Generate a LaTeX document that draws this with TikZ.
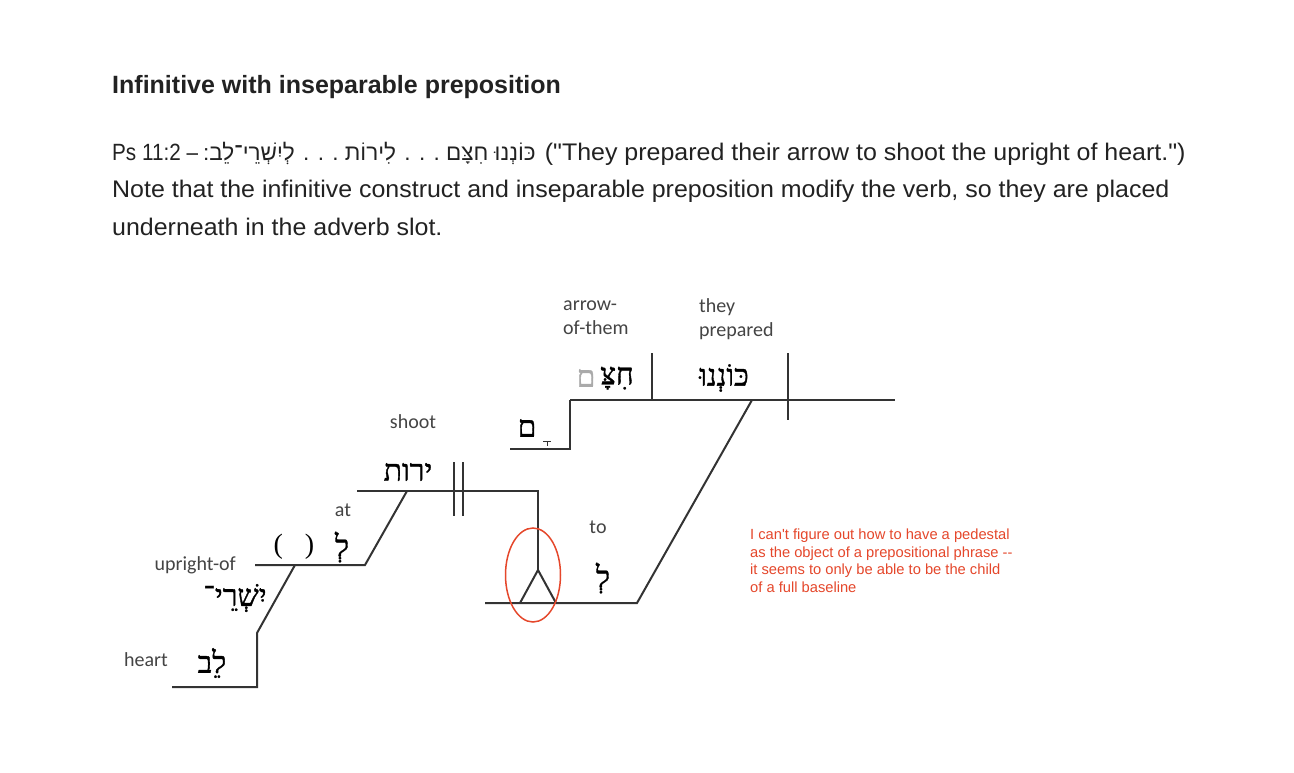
\documentclass[tikz,border=0pt]{standalone}
\usepackage{fontspec}
\setmainfont{Liberation Sans}[Ligatures=TeXOff]
\newfontfamily\bodyfont{Liberation Sans}[Ligatures=TeXOff, FakeStretch=1.04]
\newfontfamily\hebsans[Script=Hebrew]{Liberation Sans}
\newfontfamily\hebserif[Script=Hebrew, FakeBold=1.2]{Liberation Serif}
\newfontfamily\parenfont{Liberation Serif}
\newfontfamily\lblfont{Carlito}
\TeXXeTstate=1
\definecolor{txt}{HTML}{222222}
\definecolor{lblc}{HTML}{444444}
\definecolor{lnc}{HTML}{333333}
\definecolor{notec}{HTML}{E5472B}
\definecolor{sufc}{HTML}{AAAAAA}
\begin{document}
\begin{tikzpicture}[x=1pt,y=-1pt,
  body/.style={anchor=base west, inner sep=0pt, text=txt, font=\bodyfont\fontsize{24}{24}\selectfont},
  title/.style={anchor=base west, inner sep=0pt, text=txt, font=\fontsize{25}{25}\selectfont\bfseries},
  lbl/.style={inner sep=0pt, text=lblc, font=\lblfont\fontsize{20}{24}\selectfont},
  heb/.style={inner sep=0pt, text=black, font=\hebserif\fontsize{30}{30}\selectfont},
  ln/.style={draw=lnc, line width=2pt},
  notetxt/.style={inner sep=0pt, text=notec, align=left, font=\fontsize{14.7}{17.5}\selectfont},
  circ/.style={draw=notec, line width=1.5pt}
]
\useasboundingbox[fill=white] (0,0) rectangle (1294,772);

% ---------- text above ----------
\node[title] (t0) at (112,93) {Infinitive with inseparable preposition};
\node[body] (t1) at (112,160) {{\rmfamily\fontsize{23.5}{23.5}\selectfont\scalebox{0.88}[1]{Ps 11:2 –}}\hspace{5pt}{\hebsans\fontsize{22.5}{22.5}\selectfont\beginR כּוֹנְנוּ חִצָּם . . . לִירוֹת . . . לְיִשְׁרֵי־לֵב:\endR} ("They prepared their arrow to shoot the upright of heart.")};
\node[body] (t2) at (112,197) {Note that the infinitive construct and inseparable preposition modify the verb, so they are placed};
\node[body] (t3) at (112,235) {underneath in the adverb slot.};

% ---------- coordinates ----------
\coordinate (mainL) at (570,400);
\coordinate (mainR) at (895,400);
\coordinate (vdT) at (652,353);
\coordinate (vdB) at (652,400);
\coordinate (spT) at (788,353);
\coordinate (spB) at (788,420);
\coordinate (d1a) at (752,400);
\coordinate (d1b) at (637,603);
\coordinate (p1L) at (485,603);
\coordinate (sufA) at (570,449);
\coordinate (sufB) at (510,449);
\coordinate (infL) at (357,491);
\coordinate (infR) at (538,491);
\coordinate (pedT) at (538,570);
\coordinate (pedL) at (520,603);
\coordinate (pedR) at (556,603);
\coordinate (bar1T) at (454,462);
\coordinate (bar1B) at (454,516);
\coordinate (bar2T) at (463,462);
\coordinate (bar2B) at (463,516);
\coordinate (d2a) at (407,491);
\coordinate (d2b) at (365,565);
\coordinate (p2L) at (255,565);
\coordinate (d3a) at (295,565);
\coordinate (d3b) at (257,633);
\coordinate (d3c) at (257,687);
\coordinate (d3d) at (172,687);

% ---------- lines ----------
\draw[ln] (mainL) -- (mainR);
\draw[ln] (vdT) -- (vdB);
\draw[ln] (spT) -- (spB);
\draw[ln] (d1a) -- (d1b) -- (p1L);
\draw[ln] (mainL) -- (sufA) -- (sufB);
\draw[ln] (infL) -- (infR) -- (pedT);
\draw[ln] (pedL) -- (pedT) -- (pedR);
\draw[ln] (bar1T) -- (bar1B);
\draw[ln] (bar2T) -- (bar2B);
\draw[ln] (d2a) -- (d2b) -- (p2L);
\draw[ln] (d3a) -- (d3b) -- (d3c) -- (d3d);
% small qamats mark
\draw[draw=lnc, line width=1pt] (543,441) -- (551,441) (547,441) -- (547,446);

% ---------- labels ----------
\node[lbl, anchor=west, align=left] (l1) at (563,318) {arrow-\\of-them};
\node[lbl, anchor=west, align=left] (l2) at (699,319) {they\\prepared};
\node[lbl] (l3) at (413,422) {shoot};
\node[lbl] (l4) at (343,510) {at};
\node[lbl] (l5) at (598,527) {to};
\node[lbl, anchor=east] (l6) at (236,565) {upright-of};
\node[lbl, anchor=east] (l7) at (168,660) {heart};

% ---------- hebrew words ----------
\node[heb] (h1) at (724,378) {\beginR כּוֹנְנוּ\endR};
\node[heb] (h2) at (617,378) {\beginR חִצָּ\endR};
\node[heb, text=sufc] (h3) at (586,378) {\beginR ם\endR};
\node[heb] (h4) at (527,428) {\beginR ם\endR};
\node[heb] (h5) at (408,472) {\beginR ירות\endR};
\node[inner sep=0pt, text=black, font=\parenfont\fontsize{28}{28}\selectfont] (h6) at (294,547) {(\hspace{22pt})};
\node[heb] (h7) at (342,547) {\beginR לְ\endR};
\node[heb] (h8) at (235,598) {\beginR יִשְׁרֵי־\endR};
\node[heb] (h9) at (212,663) {\beginR לֵב\endR};
\node[heb] (h10) at (603,578) {\beginR לְ\endR};

% ---------- note ----------
\draw[circ] (533,575) ellipse [x radius=27.5, y radius=47];
\node[notetxt, anchor=north west] (n1) at (750,529) {I can't figure out how to have a pedestal\\as the object of a prepositional phrase --\\it seems to only be able to be the child\\of a full baseline};
\end{tikzpicture}
\end{document}
